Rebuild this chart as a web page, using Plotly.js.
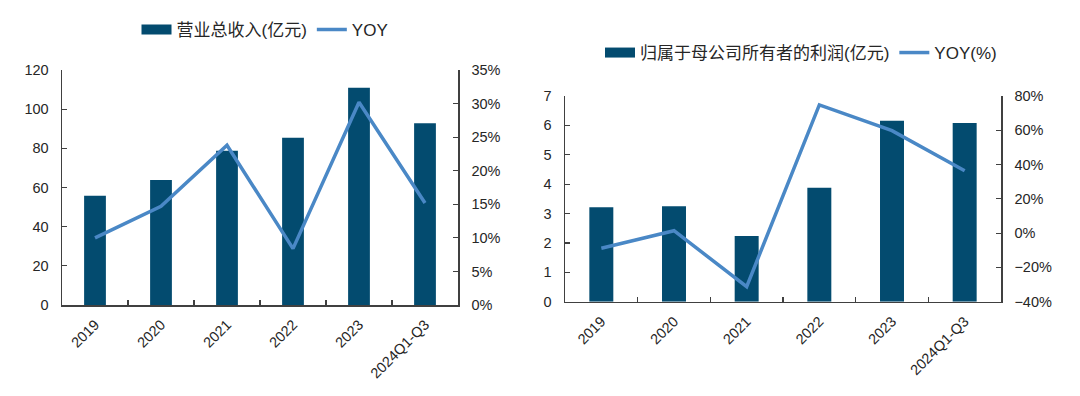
<!DOCTYPE html>
<html>
<head>
<meta charset="utf-8">
<script src="https://cdn.plot.ly/plotly-3.0.1.min.js"></script>
<style>html,body{margin:0;padding:0;background:#fff;}#chart{width:1080px;height:396px;}</style>
</head>
<body>
<div id="chart"></div>
<script>
// Data
const categories = ['2019', '2020', '2021', '2022', '2023', '2024Q1-Q3'];
const revenue = [55.8, 63.8, 78.8, 85.4, 111.0, 92.8];          // 营业总收入(亿元)
const revenueYoy = [10.0, 14.7, 23.8, 8.4, 30.2, 15.2];        // YOY %
const netProfit = [3.21, 3.25, 2.24, 3.88, 6.16, 6.08];          // 归属于母公司所有者的利润(亿元)
const netProfitYoy = [-8.8, 1.4, -31.2, 74.8, 59.8, 36.4];     // YOY(%)
const seriesNames = ['营业总收入(亿元)', 'YOY', '归属于母公司所有者的利润(亿元)', 'YOY(%)'];

const barColor = '#034b6f';
const lineColor = '#4a88c6';
const axisColor = '#404040';
const textColor = '#262626';
const numFont = {family: 'Arial, Liberation Sans, sans-serif', size: 14.5, color: textColor};
const legFont = {family: 'Arial, Liberation Sans, Noto Sans CJK SC, sans-serif', size: 17, color: textColor};

const traces = [
  {type: 'bar', x: categories, y: revenue, name: seriesNames[0], marker: {color: barColor},
   xaxis: 'x', yaxis: 'y', showlegend: false},
  // legend-only swatch for the bar series (wide rectangle like the original)
  {type: 'scatter', mode: 'lines', x: [null], y: [null], name: seriesNames[0],
   line: {color: barColor, width: 12}, xaxis: 'x', yaxis: 'y', legend: 'legend'},
  {type: 'scatter', mode: 'lines', x: categories, y: revenueYoy, name: seriesNames[1],
   line: {color: lineColor, width: 3.5}, xaxis: 'x', yaxis: 'y2', legend: 'legend'},
  {type: 'bar', x: categories, y: netProfit, name: seriesNames[2], marker: {color: barColor},
   xaxis: 'x2', yaxis: 'y3', showlegend: false},
  {type: 'scatter', mode: 'lines', x: [null], y: [null], name: seriesNames[2],
   line: {color: barColor, width: 12}, xaxis: 'x2', yaxis: 'y3', legend: 'legend2'},
  {type: 'scatter', mode: 'lines', x: categories, y: netProfitYoy, name: seriesNames[3],
   line: {color: lineColor, width: 3.5}, xaxis: 'x2', yaxis: 'y4', legend: 'legend2'}
];

const H = 396, W = 1080;
const xAxisBase = {
  type: 'category', showline: true, linecolor: axisColor, linewidth: 1.5,
  ticks: 'inside', ticklen: 5, tickcolor: axisColor, tickwidth: 1.2, tickson: 'boundaries',
  tickangle: -45, tickfont: numFont, ticklabelstandoff: 4, showgrid: false, zeroline: false, fixedrange: true
};
const yAxisBase = {
  showline: true, linecolor: axisColor, linewidth: 1.5, ticks: 'inside', ticklen: 5,
  tickcolor: axisColor, tickwidth: 1.2, tickfont: numFont, ticklabelstandoff: 9,
  showgrid: false, zeroline: false, fixedrange: true
};

const layout = {
  width: W, height: H,
  margin: {l: 0, r: 0, t: 0, b: 0},
  paper_bgcolor: '#fff', plot_bgcolor: '#fff',
  bargap: 0.67,
  showlegend: true,
  xaxis: Object.assign({}, xAxisBase, {domain: [62 / W, 458 / W], anchor: 'y', range: [-0.5, 5.5]}),
  yaxis: Object.assign({}, yAxisBase, {domain: [1 - 305 / H, 1 - 70 / H], anchor: 'x', range: [0, 120], dtick: 20}),
  yaxis2: Object.assign({}, yAxisBase, {domain: [1 - 305 / H, 1 - 70 / H], anchor: 'x', overlaying: 'y', side: 'right',
    range: [0, 35], dtick: 5, ticksuffix: '%'}),
  xaxis2: Object.assign({}, xAxisBase, {domain: [565 / W, 1001 / W], anchor: 'y3', range: [-0.5, 5.5]}),
  yaxis3: Object.assign({}, yAxisBase, {domain: [1 - 301.7 / H, 1 - 96 / H], anchor: 'x2', range: [0, 7], dtick: 1}),
  yaxis4: Object.assign({}, yAxisBase, {domain: [1 - 301.7 / H, 1 - 96 / H], anchor: 'x2', overlaying: 'y3', side: 'right',
    range: [-40, 80], dtick: 20, ticksuffix: '%'}),
  legend: {orientation: 'h', x: 265 / W, xanchor: 'center', y: 1 - 30 / H, yanchor: 'middle',
    font: legFont, bgcolor: 'rgba(0,0,0,0)', itemwidth: 30, tracegroupgap: 0},
  legend2: {orientation: 'h', x: 801 / W, xanchor: 'center', y: 1 - 53 / H, yanchor: 'middle',
    font: legFont, bgcolor: 'rgba(0,0,0,0)', itemwidth: 30, tracegroupgap: 0}
};

Plotly.newPlot('chart', traces, layout, {displayModeBar: false, staticPlot: true});
</script>
</body>
</html>
